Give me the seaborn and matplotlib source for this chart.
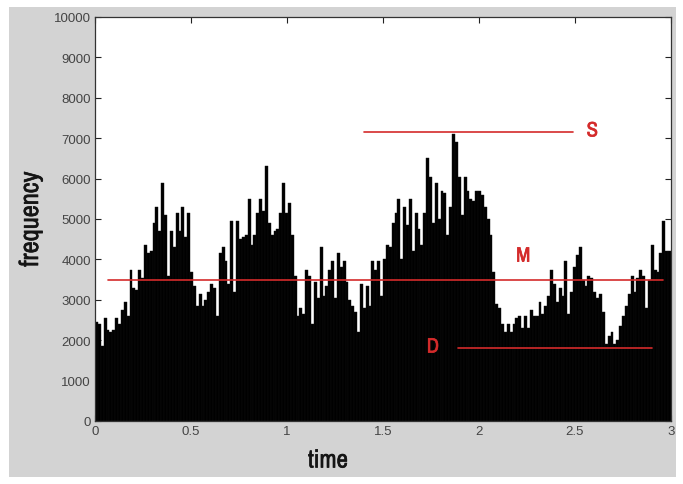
import numpy as np
import pandas as pd
import matplotlib
matplotlib.use("Agg")
import matplotlib.pyplot as plt
import matplotlib.patches as mpatches
import matplotlib.patheffects as pe
from matplotlib import font_manager
import seaborn as sns

# ---- data ----
bin_width = 0.015
frequency = [
    2450, 2400, 1850, 2550, 2250, 2200, 2250, 2550, 2400, 2750,
    2950, 2600, 3750, 3300, 3250, 3750, 3550, 4350, 4150, 4200,
    4900, 5300, 4700, 5900, 5100, 3600, 4700, 4300, 5150, 4700,
    5300, 4550, 5150, 3700, 3350, 2850, 3150, 2850, 3000, 3200,
    3400, 3300, 2600, 4150, 4300, 3950, 3400, 4950, 3200, 4950,
    4500, 4550, 4600, 5500, 4350, 4600, 5150, 5500, 5200, 6300,
    4900, 4600, 4700, 4750, 5150, 5900, 5150, 5400, 4600, 3600,
    2600, 2800, 2650, 3750, 3600, 2400, 3450, 3050, 4300, 3100,
    3350, 3750, 3950, 3050, 4150, 3800, 3950, 3450, 3000, 2850,
    2700, 2200, 3400, 2800, 3350, 2850, 3950, 3750, 3950, 3100,
    4000, 4350, 4300, 4900, 5150, 5500, 4000, 5300, 4850, 5500,
    4200, 5150, 4750, 4350, 5150, 6500, 6050, 4900, 5900, 5000,
    5700, 5650, 4600, 5300, 7100, 6900, 6050, 5100, 6050, 5700,
    5500, 5450, 5700, 5700, 5600, 5300, 5000, 4600, 3700, 2900,
    2800, 2400, 2200, 2400, 2200, 2400, 2550, 2600, 2300, 2600,
    2300, 2750, 2600, 2600, 2950, 2650, 2850, 3100, 3750, 3400,
    2950, 3300, 3100, 3950, 2650, 3200, 3800, 4100, 4300, 3500,
    3350, 3600, 3550, 3200, 3050, 3150, 2700, 1900, 2100, 2200,
    1900, 2000, 2350, 2600, 2850, 3150, 3600, 3200, 3550, 3750,
    3600, 2800, 3500, 4350, 3750, 3700, 4150, 4950, 4200, 4200,
]
time_start = [i * bin_width for i in range(len(frequency))]

level_names = ["S", "M", "D"]
level_values = [7150, 3500, 1800]
level_x0 = [1.40, 0.07, 1.89]
level_x1 = [2.49, 2.96, 2.90]
label_x = [2.59, 2.23, 1.76]
label_y = [7180, 4080, 1830]

xticks = [0, 0.5, 1, 1.5, 2, 2.5, 3]
xtick_labels = ["0", "0.5", "1", "1.5", "2", "2.5", "3"]
yticks = list(range(0, 10001, 1000))

# ---- plot ----
sns.set_theme(style="white")
plt.rcParams["font.family"] = ["Liberation Sans", "DejaVu Sans"]

# a condensed face for the labels, emboldened with a thin stroke
cond_family = None
for f in font_manager.fontManager.ttflist:
    if ("Narrow" in f.name or "Condensed" in f.name):
        cond_family = f.name
        break


def lab_kw(size, color, stroke=0.45):
    if cond_family is not None:
        return dict(family=[cond_family, "DejaVu Sans"], fontsize=size, fontweight="bold",
                    color=color,
                    path_effects=[pe.withStroke(linewidth=stroke, foreground=color)])
    return dict(fontsize=size, fontweight="bold", color=color)


df = pd.DataFrame({"time": [t + bin_width / 2 for t in time_start],
                   "frequency": frequency})

fig = plt.figure(figsize=(6.83, 4.85), dpi=100, facecolor="white")
fig.patches.append(mpatches.Rectangle((9 / 683, 1 - 478 / 485), 667 / 683, 470 / 485,
                                      transform=fig.transFigure, facecolor="#d3d3d3",
                                      edgecolor="none", zorder=-10))
ax = fig.add_axes([95 / 683, 1 - 422 / 485, 576 / 683, 404 / 485])
ax.set_facecolor("white")

sns.histplot(data=df, x="time", weights="frequency", bins=len(frequency),
             binrange=(0, 3), color="black", edgecolor="#111111", linewidth=0.3,
             alpha=1, ax=ax)

red = "#d42b2b"
for name, v, x0, x1, lx, ly in zip(level_names, level_values, level_x0, level_x1, label_x, label_y):
    ax.plot([x0, x1], [v, v], color=red, lw=1.2, zorder=5)
    ax.text(lx, ly, name, ha="center", va="center", zorder=6, **lab_kw(15, red))

ax.set_xlim(0, 3)
ax.set_ylim(0, 10000)
ax.set_xticks(xticks)
ax.set_xticklabels(xtick_labels)
ax.set_yticks(yticks)
ax.tick_params(direction="in", length=4, width=0.8, colors="#222222", labelcolor="#444444",
               labelsize=9.5, top=True, right=True, bottom=True, left=True, pad=3)
for s in ax.spines.values():
    s.set_visible(True)
    s.set_color("#333333")
    s.set_linewidth(0.9)

ax.set_xlabel("time", **lab_kw(18, "#151515"))
ax.set_ylabel("frequency", **lab_kw(19, "#151515"))
ax.xaxis.set_label_coords((328 - 95) / 576, -0.068)
ax.yaxis.set_label_coords(-(95 - 42) / 576, 0.5)

fig.savefig("out.png", dpi=100, facecolor="white")
